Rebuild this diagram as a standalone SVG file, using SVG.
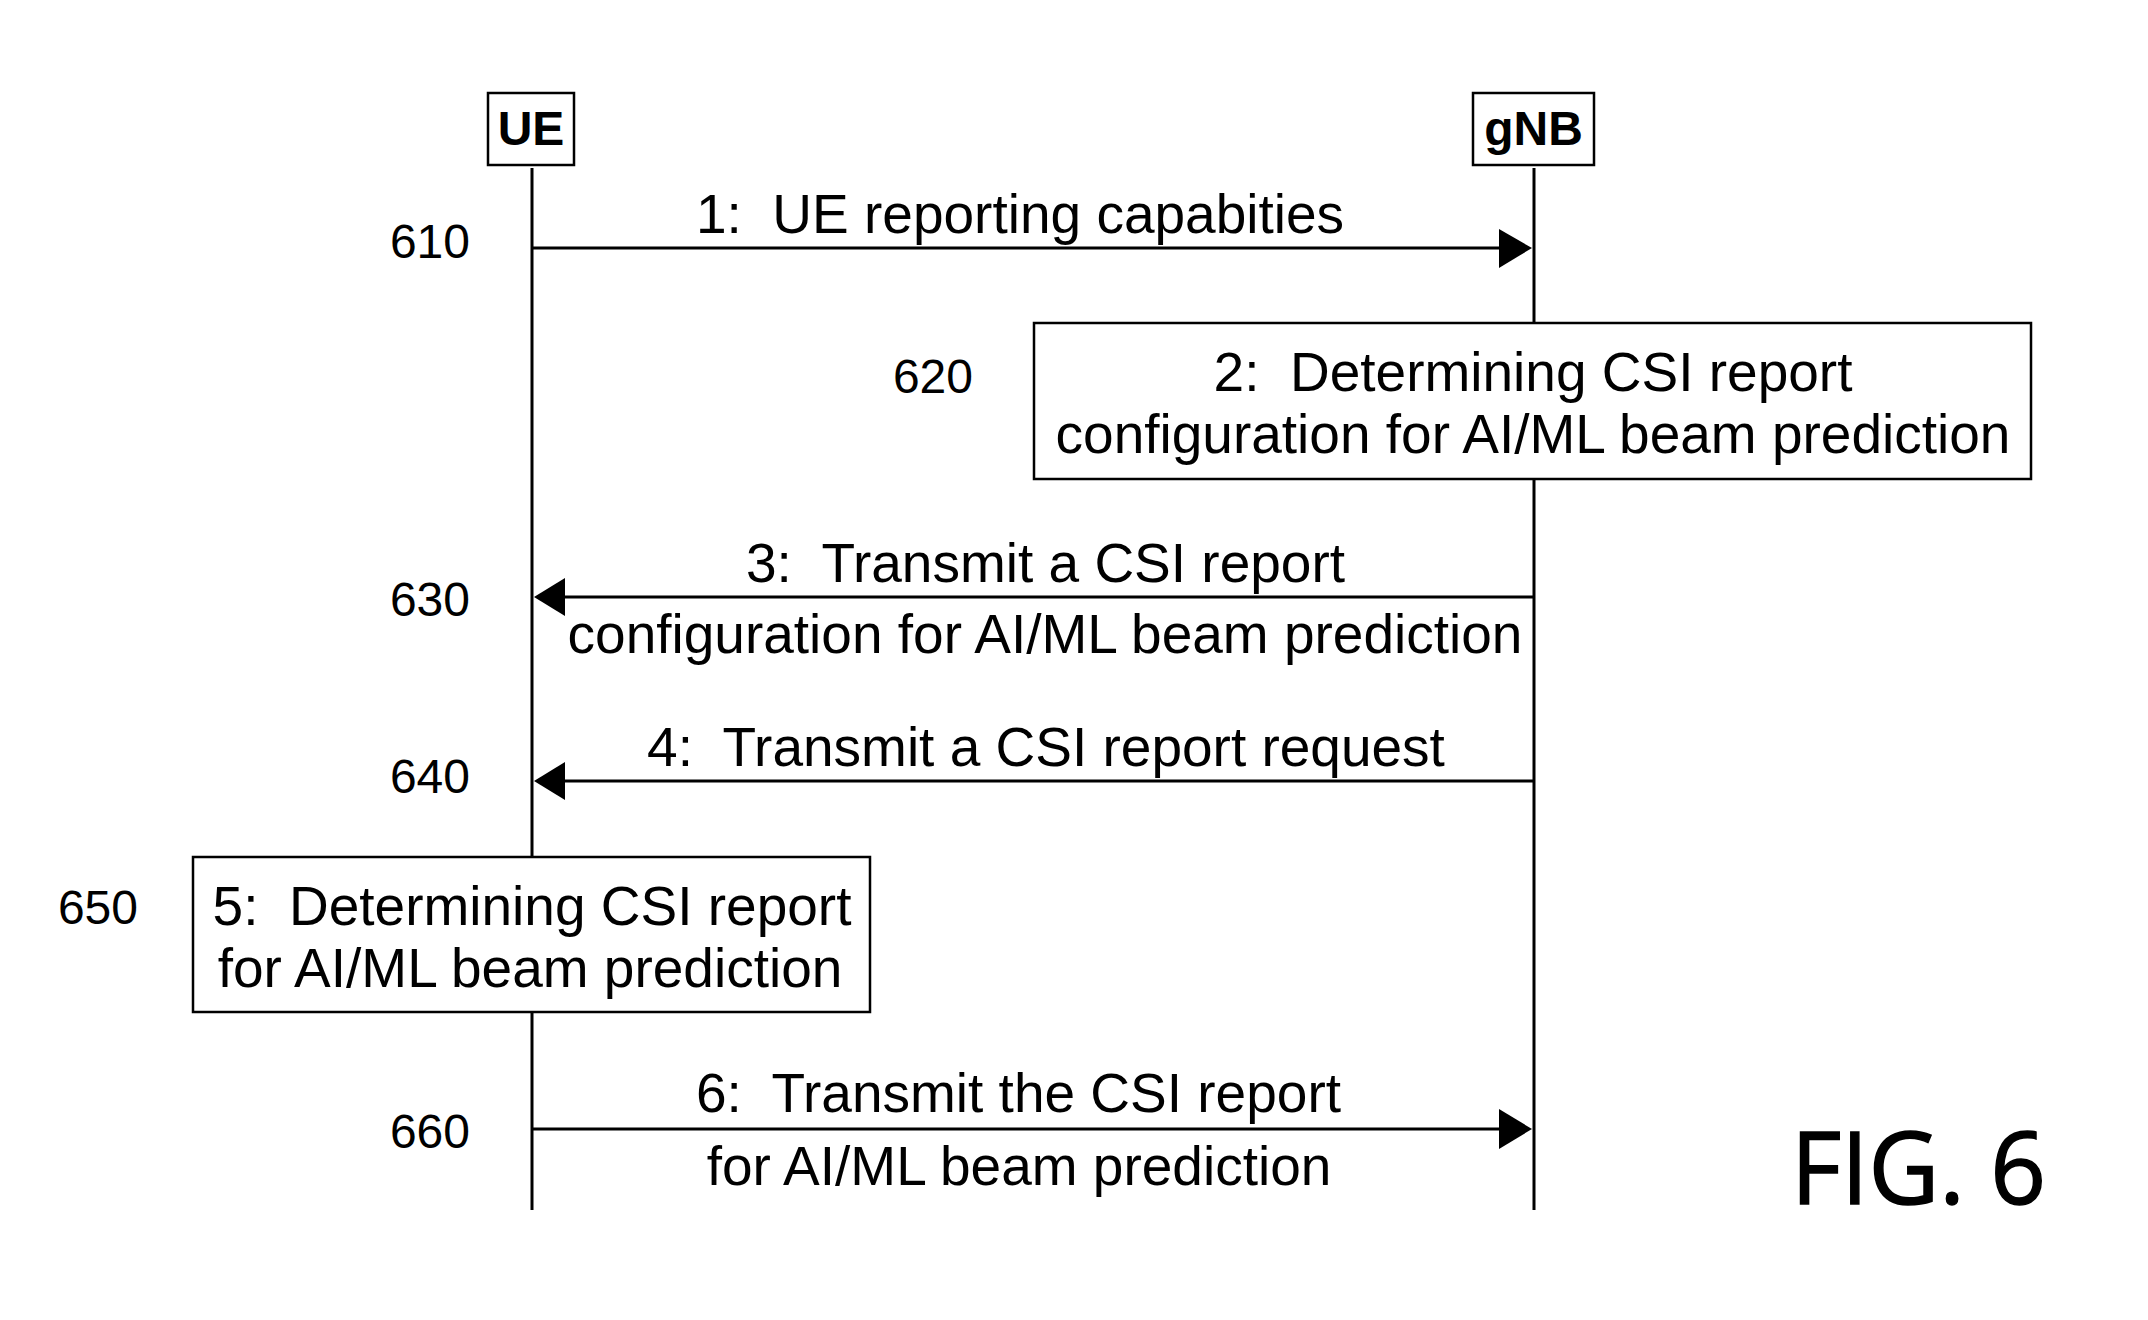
<svg xmlns="http://www.w3.org/2000/svg" width="2148" height="1320" viewBox="0 0 2148 1320">
<style>
  .t{font-family:"Liberation Sans",Arial,sans-serif;font-size:55px;fill:#000;white-space:pre}
  .lbl{font-family:"Liberation Sans",Arial,sans-serif;font-size:48px;fill:#000;text-anchor:end}
  .act{font-family:"Liberation Sans",Arial,sans-serif;font-size:48px;font-weight:bold;fill:#000;text-anchor:middle}
  .box{fill:#fff;stroke:#000;stroke-width:2.5}
  .life{stroke:#000;stroke-width:3;fill:none}
  .msg{stroke:#000;stroke-width:3;fill:none}
  .head{fill:#000;stroke:none}
  .fig{font-family:"Open Sans","Noto Sans",sans-serif;font-size:100px;fill:#000;stroke:#000;stroke-width:1.5}
</style>
<rect width="2148" height="1320" fill="#fff"/>

<g id="lifelines">
  <line class="life" x1="532" y1="168" x2="532" y2="857"/>
  <line class="life" x1="532" y1="1013" x2="532" y2="1210"/>
  <line class="life" x1="1534" y1="168" x2="1534" y2="323"/>
  <line class="life" x1="1534" y1="479" x2="1534" y2="1210"/>
</g>

<g id="ue">
  <rect class="box" x="488" y="93" width="86" height="72"/>
  <text class="act" x="531" y="145">UE</text>
</g>
<g id="gnb">
  <rect class="box" x="1473" y="93" width="121" height="72"/>
  <text class="act" x="1533.5" y="145">gNB</text>
</g>

<g id="connectors">
  <g id="m610">
    <line class="msg" x1="532" y1="248" x2="1505" y2="248"/>
    <polygon class="head" points="1499,229 1532,248 1499,268"/>
  </g>
  <g id="m630">
    <line class="msg" x1="1534" y1="597" x2="560" y2="597"/>
    <polygon class="head" points="565,578 534,597 565,616"/>
  </g>
  <g id="m640">
    <line class="msg" x1="1534" y1="781" x2="560" y2="781"/>
    <polygon class="head" points="565,762 534,781 565,800"/>
  </g>
  <g id="m660">
    <line class="msg" x1="532" y1="1129" x2="1505" y2="1129"/>
    <polygon class="head" points="1499,1109 1532,1129 1499,1149"/>
  </g>
</g>

<g id="labels-msg">
  <text class="t" x="1020" y="233" text-anchor="middle" xml:space="preserve">1:  UE reporting capabities</text>
  <text class="t" x="1045.5" y="582" text-anchor="middle" xml:space="preserve">3:  Transmit a CSI report</text>
  <text class="t" x="1045" y="653" text-anchor="middle">configuration for AI/ML beam prediction</text>
  <text class="t" x="1046" y="766" text-anchor="middle" xml:space="preserve">4:  Transmit a CSI report request</text>
  <text class="t" x="1018.5" y="1112" text-anchor="middle" xml:space="preserve">6:  Transmit the CSI report</text>
  <text class="t" x="1019" y="1185" text-anchor="middle">for AI/ML beam prediction</text>
</g>

<g id="n620">
  <rect class="box" x="1034" y="323" width="997" height="156"/>
  <text class="t" x="1533" y="391" text-anchor="middle" xml:space="preserve">2:  Determining CSI report</text>
  <text class="t" x="1533" y="453" text-anchor="middle">configuration for AI/ML beam prediction</text>
</g>

<g id="n650">
  <rect class="box" x="193" y="857" width="677" height="155"/>
  <text class="t" x="532" y="925" text-anchor="middle" xml:space="preserve">5:  Determining CSI report</text>
  <text class="t" x="530" y="987" text-anchor="middle">for AI/ML beam prediction</text>
</g>

<g id="refs">
  <text class="lbl" x="470" y="258">610</text>
  <text class="lbl" x="973" y="393">620</text>
  <text class="lbl" x="470" y="616">630</text>
  <text class="lbl" x="470" y="793">640</text>
  <text class="lbl" x="138" y="924">650</text>
  <text class="lbl" x="470" y="1148">660</text>
</g>

<text class="fig" x="1791" y="1204" textLength="255" lengthAdjust="spacingAndGlyphs">FIG. 6</text>
</svg>
